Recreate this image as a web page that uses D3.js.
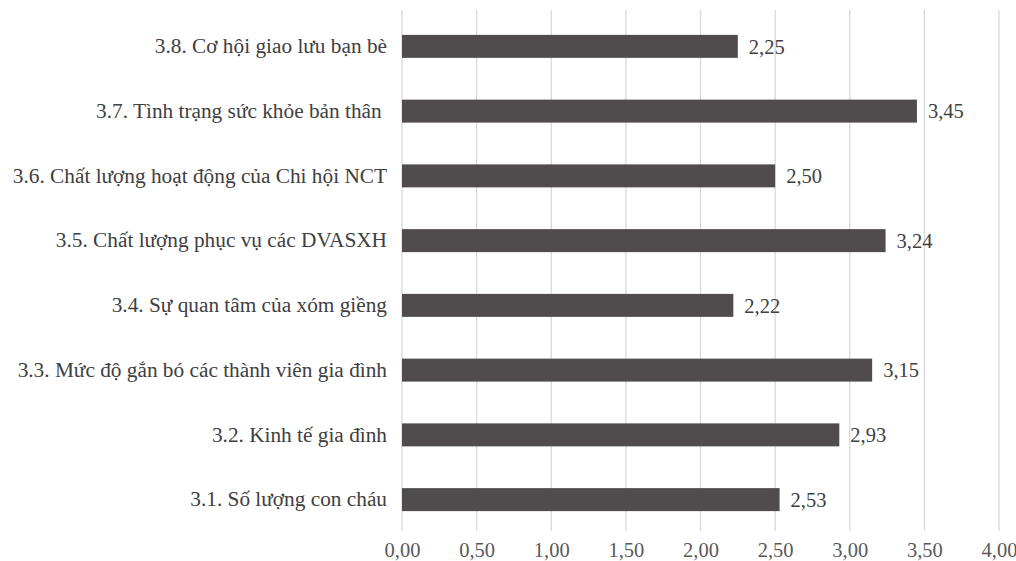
<!DOCTYPE html>
<html>
<head>
<meta charset="utf-8">
<script src="https://cdn.jsdelivr.net/npm/d3@7"></script>
<style>
  html, body { margin: 0; padding: 0; background: #fff; }
</style>
</head>
<body>
<svg id="chart" width="1016" height="561"></svg>
<script>
// Categories listed top to bottom
const categories = [
  "3.8. Cơ hội giao lưu bạn bè",
  "3.7. Tình trạng sức khỏe bản thân ",
  "3.6. Chất lượng hoạt động của Chi hội NCT",
  "3.5. Chất lượng phục vụ các DVASXH",
  "3.4. Sự quan tâm của xóm giềng",
  "3.3. Mức độ gắn bó các thành viên gia đình",
  "3.2. Kinh tế gia đình",
  "3.1. Số lượng con cháu"
];
const values = [2.25, 3.45, 2.50, 3.24, 2.22, 3.15, 2.93, 2.53];
const tickValues = [0, 0.5, 1, 1.5, 2, 2.5, 3, 3.5, 4];

const fmt = v => v.toFixed(2).replace(".", ",");
const FONT = '"Liberation Serif"';

const svg = d3.select("#chart");
const plot = { left: 402, right: 999, top: 14, bottom: 532 };

const x = d3.scaleLinear().domain([0, 4]).range([plot.left, plot.right]);
const y = d3.scaleBand().domain(categories).range([plot.top, plot.bottom]).paddingInner(0.645).paddingOuter(0.3225);

// vertical gridlines
svg.append("g").selectAll("line").data(tickValues).join("line")
  .attr("x1", d => x(d)).attr("x2", d => x(d))
  .attr("y1", 10).attr("y2", 531)
  .attr("stroke", "#d9d9d9").attr("stroke-width", 1.3);

// x axis tick labels
const xAxis = d3.axisBottom(x).tickValues(tickValues).tickFormat(fmt).tickSize(0).tickPadding(0);
const gx = svg.append("g").attr("transform", "translate(0,540)").call(xAxis);
gx.select(".domain").remove();
gx.selectAll("text")
  .style("font-family", FONT)
  .style("font-size", "20.5px")
  .attr("fill", "#595959")
  .attr("dy", "0.85em");

// bars
svg.append("g").selectAll("rect").data(values).join("rect")
  .attr("x", x(0))
  .attr("y", (d, i) => y(categories[i]))
  .attr("width", d => x(d) - x(0))
  .attr("height", y.bandwidth())
  .attr("fill", "#504c4d");

// value labels
svg.append("g").selectAll("text").data(values).join("text")
  .attr("x", d => x(d) + 11)
  .attr("y", (d, i) => y(categories[i]) + y.bandwidth() / 2)
  .attr("dy", "0.35em")
  .style("font-family", FONT)
  .style("font-size", "20.5px")
  .attr("fill", "#404040")
  .text(fmt);

// category labels
const yAxis = d3.axisLeft(y).tickSize(0).tickPadding(15);
const gy = svg.append("g").attr("transform", `translate(${plot.left},0)`).call(yAxis);
gy.select(".domain").remove();
gy.selectAll("text")
  .style("font-family", FONT)
  .style("font-size", "21.3px")
  .attr("fill", "#404040")
  .style("white-space", "pre");
</script>
</body>
</html>
